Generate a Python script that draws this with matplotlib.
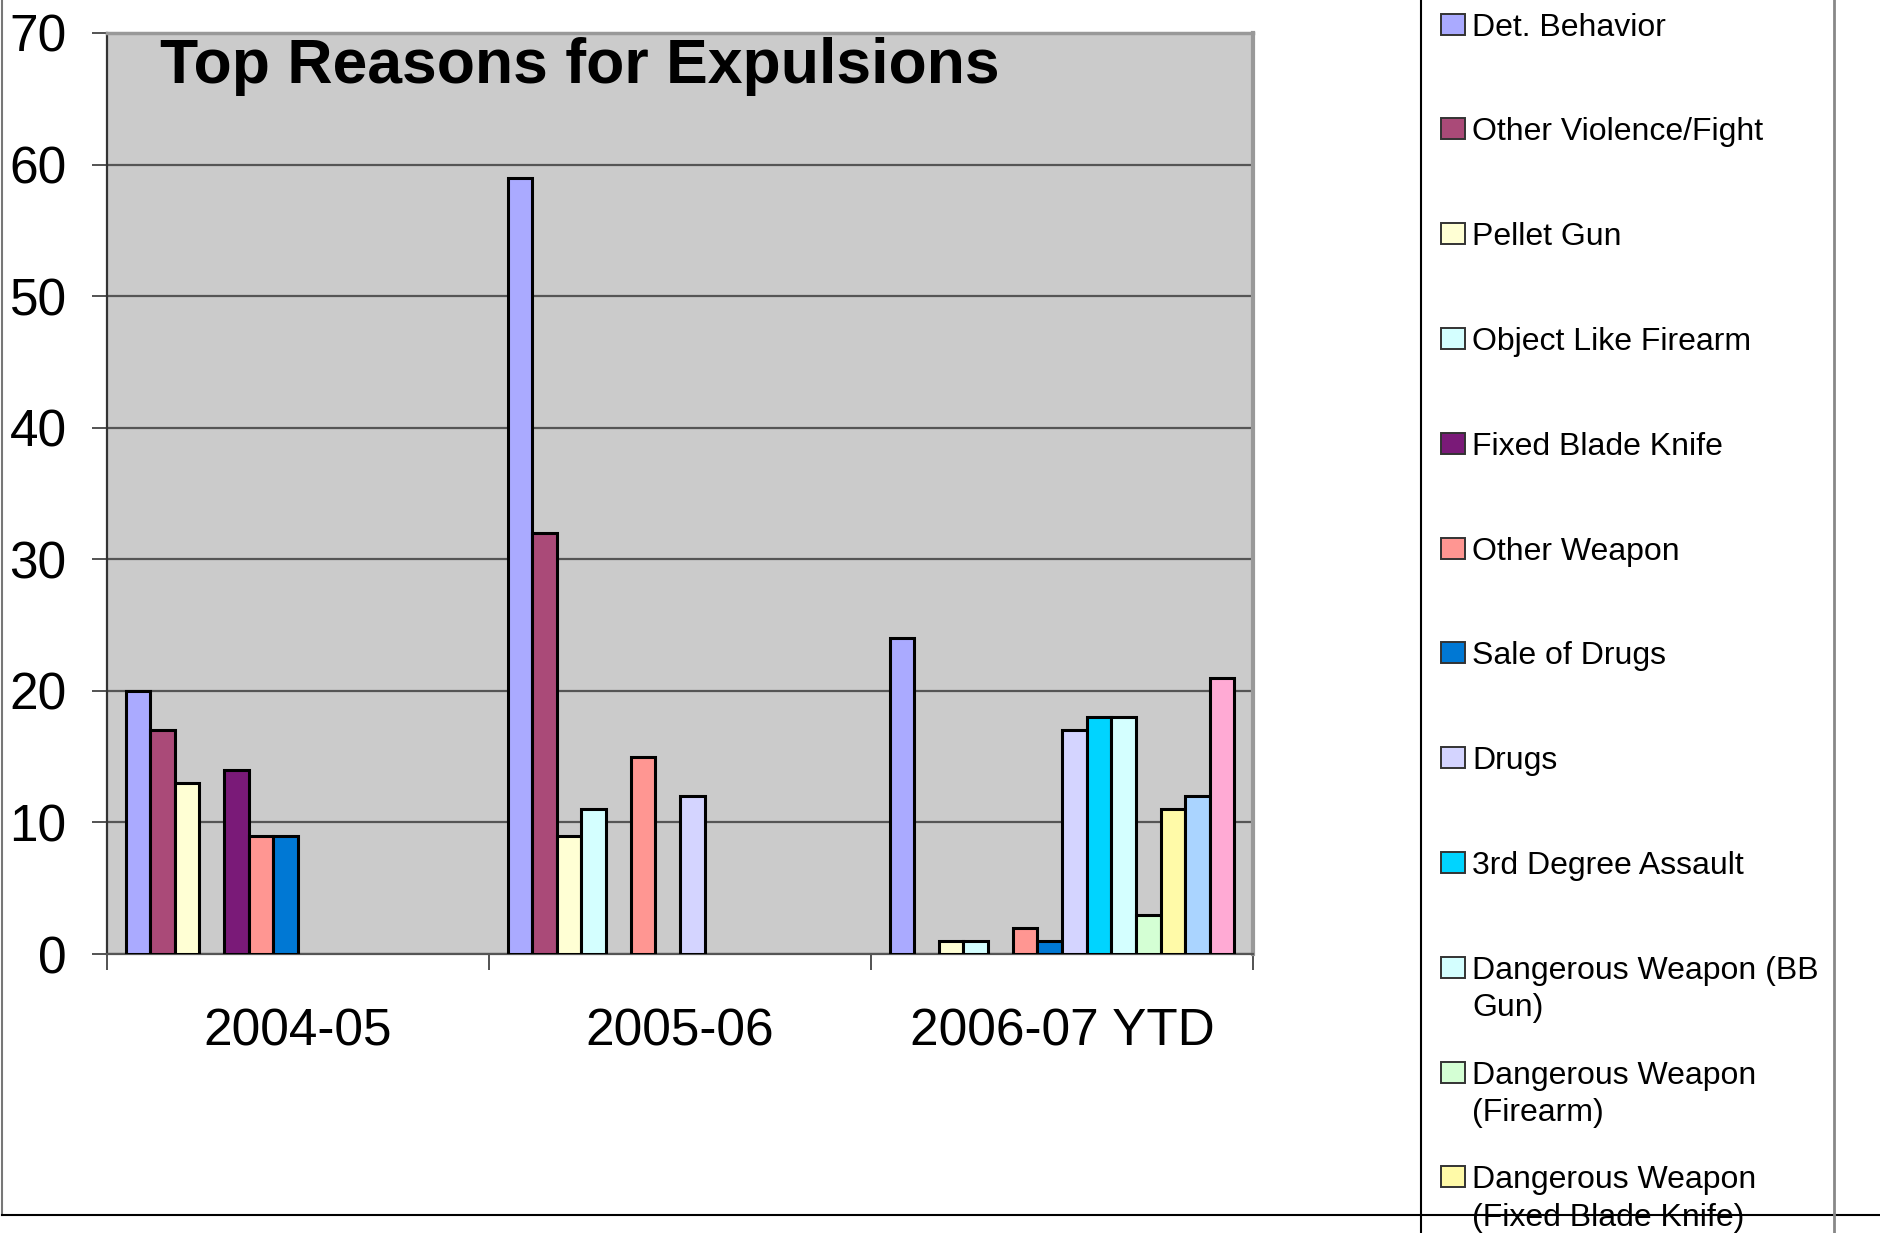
import numpy as np
import matplotlib
matplotlib.use('Agg')
import matplotlib.pyplot as plt
from matplotlib.lines import Line2D
from matplotlib.patches import Rectangle

plt.rcParams['font.family'] = ['Liberation Sans', 'DejaVu Sans']

# school years on the x axis
years = ['2004-05', '2005-06', '2006-07 YTD']

# expulsions per reason, one value per year
det_behavior = [20, 59, 24]
other_violence = [17, 32, 0]
pellet_gun = [13, 9, 1]
object_like_firearm = [0, 11, 1]
fixed_blade_knife = [14, 0, 0]
other_weapon = [9, 15, 2]
sale_of_drugs = [9, 0, 1]
drugs = [0, 12, 17]
assault_3rd = [0, 0, 18]
dw_bb_gun = [0, 0, 18]
dw_firearm = [0, 0, 3]
dw_knife = [0, 0, 11]
series_13 = [0, 0, 12]   # legend entry cut off in the original
series_14 = [0, 0, 21]   # legend entry cut off in the original

labels = ['Det. Behavior', 'Other Violence/Fight', 'Pellet Gun',
          'Object Like Firearm', 'Fixed Blade Knife', 'Other Weapon',
          'Sale of Drugs', 'Drugs', '3rd Degree Assault',
          'Dangerous Weapon (BB\nGun)', 'Dangerous Weapon\n(Firearm)',
          'Dangerous Weapon\n(Fixed Blade Knife)', 'Series 13', 'Series 14']

series = [det_behavior, other_violence, pellet_gun, object_like_firearm,
          fixed_blade_knife, other_weapon, sale_of_drugs, drugs, assault_3rd,
          dw_bb_gun, dw_firearm, dw_knife, series_13, series_14]

colors = ['#AAAAFF', '#AA4A78', '#FFFFD4', '#D4FFFF', '#7A1A78', '#FF9692',
          '#0078D4', '#D4D4FF', '#00D4FF', '#D4FFFF', '#D4FFD4', '#FFFAA8',
          '#AAD4FF', '#FFAAD4']

W, H = 1881, 1233
fig = plt.figure(figsize=(W / 100, H / 100), dpi=100)
ax = fig.add_axes([107 / W, 1 - 954 / H, (1253 - 107) / W, (954 - 33) / H])
ax.set_facecolor('#CBCBCB')

# bars, grouped by year
n = len(series)
bw = 0.0645
x = np.arange(len(years))
for i, vals in enumerate(series):
    vals = np.array(vals, dtype=float)
    keep = vals > 0
    xs = x + (i - (n - 1) / 2) * bw
    ax.bar(xs[keep], vals[keep], bw, color=colors[i], edgecolor='black',
           linewidth=2.2, zorder=3)

ax.set_xlim(-0.5, 2.5)
ax.set_ylim(0, 70)
ax.set_yticks(range(0, 71, 10))
ax.grid(axis='y', color='#555555', linewidth=1.6, zorder=1)
ax.set_axisbelow(True)

ax.set_xticks([-0.5, 0.5, 1.5, 2.5])
ax.set_xticklabels([])
ax.set_xticks(x, minor=True)
ax.set_xticklabels(years, minor=True)
ax.tick_params(axis='x', which='major', length=11.5, width=1.3, color='#444444', direction='out')
ax.tick_params(axis='x', which='minor', length=0, pad=38.5, labelsize=37)
ax.tick_params(axis='y', length=11, width=1.3, color='#444444', pad=18, labelsize=37)

ax.spines['left'].set_color('#333333')
ax.spines['left'].set_linewidth(1.6)
ax.spines['bottom'].set_color('#555555')
ax.spines['bottom'].set_linewidth(1.6)
ax.spines['top'].set_color('#999999')
ax.spines['top'].set_linewidth(2.5)
ax.spines['right'].set_color('#999999')
ax.spines['right'].set_linewidth(3)

ax.text((160 - 107) / (1253 - 107), 0.996, 'Top Reasons for Expulsions',
        transform=ax.transAxes, ha='left', va='top', fontsize=45,
        fontweight='bold', zorder=5)

# chart area border
fig.add_artist(Line2D([2 / W, 2 / W], [1 - 1215 / H, 1], color='#777777', linewidth=1.5))
fig.add_artist(Line2D([2 / W, 1], [1 - 1215 / H, 1 - 1215 / H], color='black', linewidth=1.5))

# legend box, runs off the top and bottom of the picture
lx0, lx1 = 1421, 1834
fig.add_artist(Rectangle((lx0 / W, 0), (lx1 - lx0) / W, 1, transform=fig.transFigure,
                         facecolor='white', edgecolor='none'))
fig.add_artist(Line2D([lx0 / W, lx0 / W], [0, 1], color='black', linewidth=1.5))
fig.add_artist(Line2D([lx1 / W, lx1 / W], [0, 1], color='#888888', linewidth=2))

for i, lab in enumerate(labels[:12]):
    top = 12.6 + 104.8 * i
    cy = top + 11.4
    fig.add_artist(Rectangle((1441 / W, 1 - (cy + 10.5) / H), 24 / W, 21 / H,
                             transform=fig.transFigure, facecolor=colors[i],
                             edgecolor='#333333', linewidth=1.4))
    fig.text(1472 / W, 1 - top / H, lab, ha='left', va='top', fontsize=23,
             linespacing=1.33)

fig.savefig('out.png', dpi=100)
